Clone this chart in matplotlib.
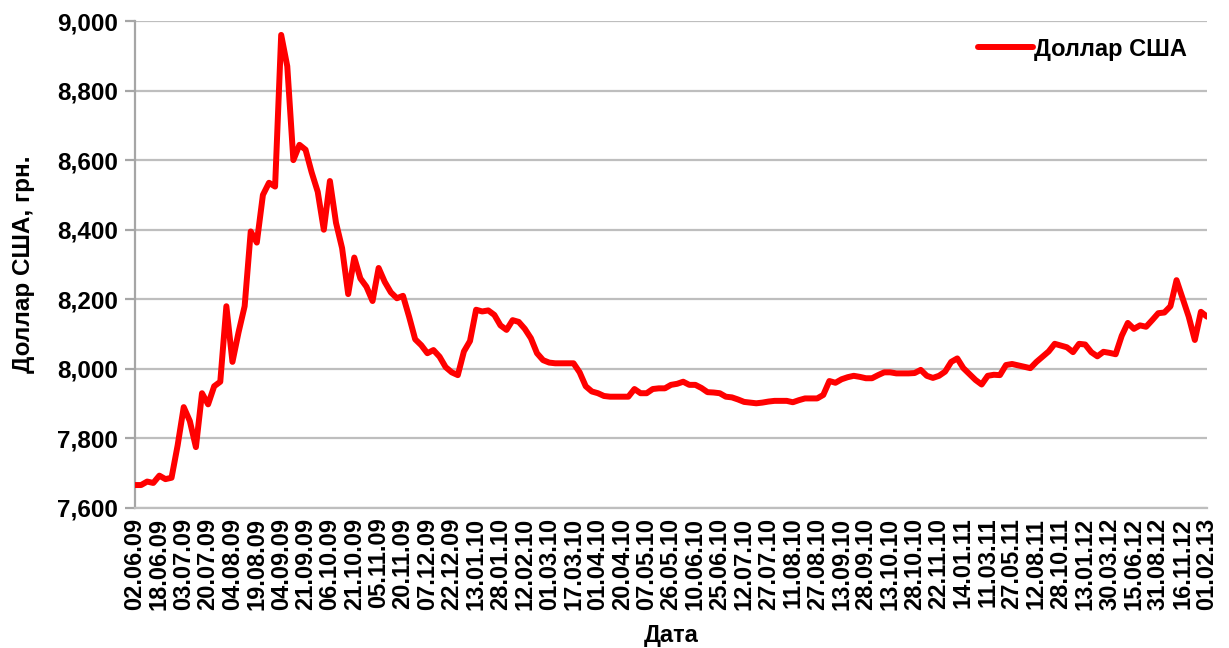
import matplotlib
matplotlib.use("Agg")
import matplotlib.pyplot as plt
from matplotlib.ticker import FuncFormatter

# ---- data ----
tick_labels = [
    "02.06.09", "18.06.09", "03.07.09", "20.07.09", "04.08.09", "19.08.09",
    "04.09.09", "21.09.09", "06.10.09", "21.10.09", "05.11.09", "20.11.09",
    "07.12.09", "22.12.09", "13.01.10", "28.01.10", "12.02.10", "01.03.10",
    "17.03.10", "01.04.10", "20.04.10", "07.05.10", "26.05.10", "10.06.10",
    "25.06.10", "12.07.10", "27.07.10", "11.08.10", "27.08.10", "13.09.10",
    "28.09.10", "13.10.10", "28.10.10", "22.11.10", "14.01.11", "11.03.11",
    "27.05.11", "12.08.11", "28.10.11", "13.01.12", "30.03.12", "15.06.12",
    "31.08.12", "16.11.12", "01.02.13",
]

usd_rate = [
    7666, 7666, 7676, 7672, 7693, 7683, 7687, 7780, 7890, 7850,
    7775, 7930, 7898, 7950, 7963, 8180, 8020, 8105, 8180, 8395,
    8363, 8500, 8535, 8524, 8960, 8870, 8600, 8644, 8630, 8565,
    8509, 8400, 8540, 8420, 8347, 8215, 8320, 8260, 8236, 8195,
    8290, 8250, 8220, 8203, 8210, 8150, 8085, 8068, 8045, 8054,
    8035, 8005, 7990, 7982, 8050, 8080, 8170, 8165, 8168, 8155,
    8125, 8112, 8140, 8135, 8115, 8088, 8045, 8025, 8018, 8016,
    8016, 8016, 8016, 7990, 7950, 7935, 7930, 7922, 7920, 7920,
    7920, 7920, 7942, 7930, 7930, 7942, 7944, 7944, 7954, 7957,
    7963, 7954, 7954, 7945, 7933, 7932, 7930, 7920, 7918, 7912,
    7905, 7903, 7901, 7903, 7906, 7908, 7908, 7908, 7904, 7910,
    7915, 7915, 7915, 7925, 7965, 7960, 7970, 7976, 7980, 7977,
    7973, 7973, 7982, 7990, 7990, 7987, 7987, 7987, 7988, 7997,
    7980, 7974, 7980, 7992, 8020, 8030, 8002, 7985, 7968, 7955,
    7980, 7983, 7982, 8011, 8014, 8010, 8006, 8002, 8020, 8035,
    8050, 8072, 8067, 8062, 8048, 8072, 8070, 8048, 8036, 8049,
    8046, 8042, 8095, 8132, 8115, 8125, 8121, 8140, 8160, 8162,
    8180, 8255, 8203, 8150, 8083, 8164, 8150,
]

series_name = "Доллар США"
y_label = "Доллар США, грн."
x_label = "Дата"
y_ticks = [7600, 7800, 8000, 8200, 8400, 8600, 8800, 9000]

# ---- figure ----
plt.rcParams["font.family"] = ["Liberation Sans", "DejaVu Sans"]
fig = plt.figure(figsize=(12.29, 6.48), dpi=100)
ax = fig.add_axes([135 / 1229, 1 - 508 / 648, (1207 - 135) / 1229, (508 - 21) / 648])

n = len(usd_rate)
x = list(range(n))
ax.plot(x, usd_rate, color="#FF0000", linewidth=4.3, solid_joinstyle="round",
        solid_capstyle="round", label=series_name, zorder=3)

step = (n - 1) / (len(tick_labels) - 1)
ax.set_xticks([i * step for i in range(len(tick_labels))])
ax.set_xticklabels(tick_labels, rotation=90, fontsize=17, fontweight="bold")
ax.set_xlim(0, n - 1)

ax.set_ylim(7600, 9000)
ax.set_yticks(y_ticks)
ax.yaxis.set_major_formatter(FuncFormatter(lambda v, p: f"{int(v):,}"))
for lbl in ax.get_yticklabels():
    lbl.set_fontsize(17.5)
    lbl.set_fontweight("bold")

ax.grid(axis="y", color="#BEBEBE", linewidth=1.6, zorder=0)
ax.set_axisbelow(True)
for side in ["top", "right"]:
    ax.spines[side].set_visible(False)
ax.spines["left"].set_color("#A6A6A6")
ax.spines["left"].set_linewidth(1.6)
ax.spines["bottom"].set_color("#BEBEBE")
ax.spines["bottom"].set_linewidth(1.6)
ax.tick_params(axis="y", length=7, width=1.6, color="#A6A6A6", pad=5)
ax.tick_params(axis="x", length=0, pad=7)

ax.set_ylabel(y_label, fontsize=17.5, fontweight="bold", labelpad=16)
ax.set_xlabel(x_label, fontsize=17, fontweight="bold", labelpad=10)

leg = ax.legend(loc="upper right", bbox_to_anchor=(0.99, 0.985), frameon=False,
                prop={"size": 17, "weight": "bold"}, handlelength=2.3,
                handletextpad=0.05, borderaxespad=0)

fig.savefig("out.png", dpi=100, facecolor="white")
